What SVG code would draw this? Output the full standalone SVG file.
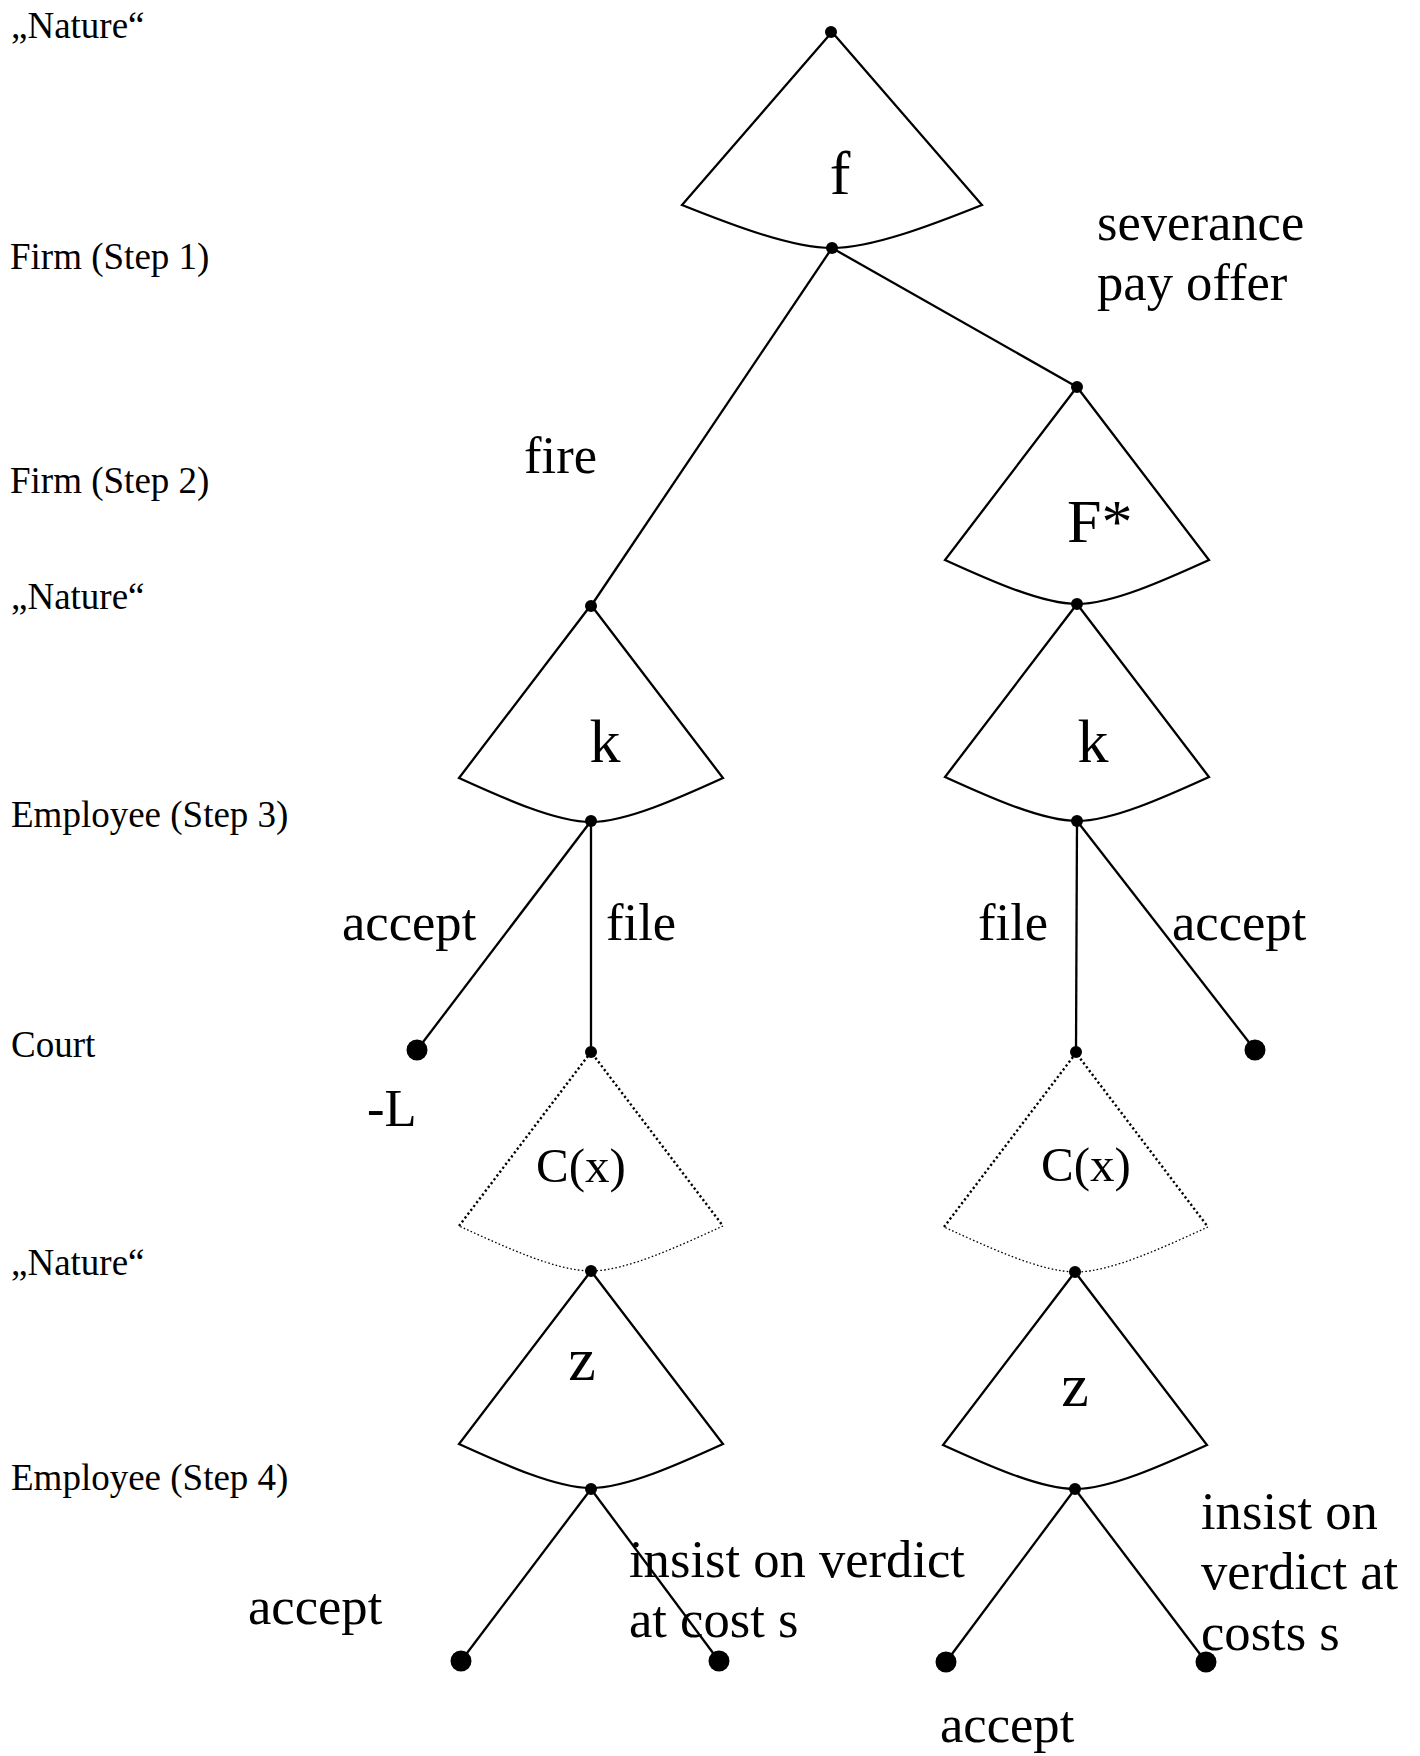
<svg xmlns="http://www.w3.org/2000/svg" xmlns:xlink="http://www.w3.org/1999/xlink" width="1420" height="1756" viewBox="0 0 1420 1756">
<style>
text{font-family:"Liberation Serif","Times New Roman",serif;fill:#000}
.lab{font-size:37px}
.edge{font-size:52.6px}
.big{font-size:62px}
.cx{font-size:49px}
.cone{fill:#fff;stroke:#000;stroke-width:2.3;stroke-linejoin:miter}
.dside{fill:none;stroke:#000;stroke-width:2.4;stroke-dasharray:2.2 2.6}
.dbot{fill:none;stroke:#000;stroke-width:1.3;stroke-dasharray:1.6 2.2}
.ln{fill:none;stroke:#000;stroke-width:2.3}
.dot{fill:#000}
</style>
<defs>
<path id="coneF" d="M0,0 L150,173 C100,193 40,216 0,216 C-40,216 -100,193 -150,173 Z"/>
<path id="cone" d="M0,0 L132,173 C88,193 35,217 0,217 C-35,217 -88,193 -132,173 Z"/>
<path id="sides" d="M-132,174 L0,0 L132,174"/>
<path id="bot" d="M132,174 C88,194 35,219 0,219 C-35,219 -88,194 -132,174"/>
</defs>
<rect width="1420" height="1756" fill="#fff"/>

<g id="player-labels">
<text class="lab" x="11" y="38">„Nature“</text>
<text class="lab" x="10" y="269">Firm (Step 1)</text>
<text class="lab" x="10" y="493">Firm (Step 2)</text>
<text class="lab" x="11" y="609">„Nature“</text>
<text class="lab" x="11" y="827">Employee (Step 3)</text>
<text class="lab" x="11" y="1057">Court</text>
<text class="lab" x="11" y="1275">„Nature“</text>
<text class="lab" x="11" y="1490">Employee (Step 4)</text>
</g>

<g id="connectors">
<line class="ln" x1="832" y1="248" x2="591" y2="606"/>
<line class="ln" x1="832" y1="248" x2="1077" y2="387"/>
<line class="ln" x1="591" y1="821" x2="417" y2="1050"/>
<line class="ln" x1="591" y1="821" x2="591" y2="1052"/>
<line class="ln" x1="1077" y1="821" x2="1076" y2="1052"/>
<line class="ln" x1="1077" y1="821" x2="1255" y2="1050"/>
<line class="ln" x1="591" y1="1489" x2="461" y2="1661"/>
<line class="ln" x1="591" y1="1489" x2="719" y2="1661"/>
<line class="ln" x1="1075" y1="1489" x2="946" y2="1662"/>
<line class="ln" x1="1075" y1="1489" x2="1206" y2="1662"/>
</g>

<g id="node-f">
<use xlink:href="#coneF" class="cone" transform="translate(832,32)"/>
<text class="big" x="840" y="194" text-anchor="middle">f</text>
</g>

<g id="node-Fstar">
<use xlink:href="#cone" class="cone" transform="translate(1077,387)"/>
<text class="big" x="1067" y="542">F*</text>
</g>

<g id="node-k-left">
<use xlink:href="#cone" class="cone" transform="translate(591,605)"/>
<text class="big" x="605" y="762" text-anchor="middle">k</text>
</g>

<g id="node-k-right">
<use xlink:href="#cone" class="cone" transform="translate(1077,604)"/>
<text class="big" x="1093" y="762" text-anchor="middle">k</text>
</g>

<g id="node-Cx-left">
<use xlink:href="#sides" class="dside" transform="translate(591,1052)"/>
<use xlink:href="#bot" class="dbot" transform="translate(591,1052)"/>
<text class="cx" x="536" y="1182">C(x)</text>
</g>

<g id="node-Cx-right">
<use xlink:href="#sides" class="dside" transform="translate(1076,1053)"/>
<use xlink:href="#bot" class="dbot" transform="translate(1076,1053)"/>
<text class="cx" x="1041" y="1181">C(x)</text>
</g>

<g id="node-z-left">
<use xlink:href="#cone" class="cone" transform="translate(591,1271)"/>
<text class="big" x="582" y="1380" text-anchor="middle">z</text>
</g>

<g id="node-z-right">
<use xlink:href="#cone" class="cone" transform="translate(1075,1272)"/>
<text class="big" x="1075" y="1406" text-anchor="middle">z</text>
</g>

<g id="dots">
<circle class="dot" cx="831" cy="32" r="6"/>
<circle class="dot" cx="832" cy="248" r="6"/>
<circle class="dot" cx="1077" cy="387" r="6"/>
<circle class="dot" cx="1077" cy="604" r="6"/>
<circle class="dot" cx="591" cy="606" r="6"/>
<circle class="dot" cx="591" cy="821" r="6"/>
<circle class="dot" cx="1077" cy="821" r="6"/>
<circle class="dot" cx="591" cy="1052" r="6"/>
<circle class="dot" cx="1076" cy="1052" r="6"/>
<circle class="dot" cx="591" cy="1271" r="6"/>
<circle class="dot" cx="1075" cy="1272" r="6"/>
<circle class="dot" cx="591" cy="1489" r="6"/>
<circle class="dot" cx="1075" cy="1489" r="6"/>
<circle class="dot" cx="417" cy="1050" r="10.5"/>
<circle class="dot" cx="1255" cy="1050" r="10.5"/>
<circle class="dot" cx="461" cy="1661" r="10.5"/>
<circle class="dot" cx="719" cy="1661" r="10.5"/>
<circle class="dot" cx="946" cy="1662" r="10.5"/>
<circle class="dot" cx="1206" cy="1662" r="10.5"/>
</g>

<g id="edge-labels">
<text class="edge" x="1097" y="240">severance</text>
<text class="edge" x="1097" y="300">pay offer</text>
<text class="edge" x="524" y="473">fire</text>
<text class="edge" x="342" y="940">accept</text>
<text class="edge" x="606" y="940">file</text>
<text class="edge" x="978" y="940">file</text>
<text class="edge" x="1172" y="940">accept</text>
<text class="edge" x="367" y="1126">-L</text>
<text class="edge" x="248" y="1624">accept</text>
<text class="edge" x="629" y="1577">insist on verdict</text>
<text class="edge" x="629" y="1637">at cost s</text>
<text class="edge" x="1201" y="1529">insist on</text>
<text class="edge" x="1201" y="1589">verdict at</text>
<text class="edge" x="1201" y="1650">costs s</text>
<text class="edge" x="940" y="1742">accept</text>
</g>
</svg>
